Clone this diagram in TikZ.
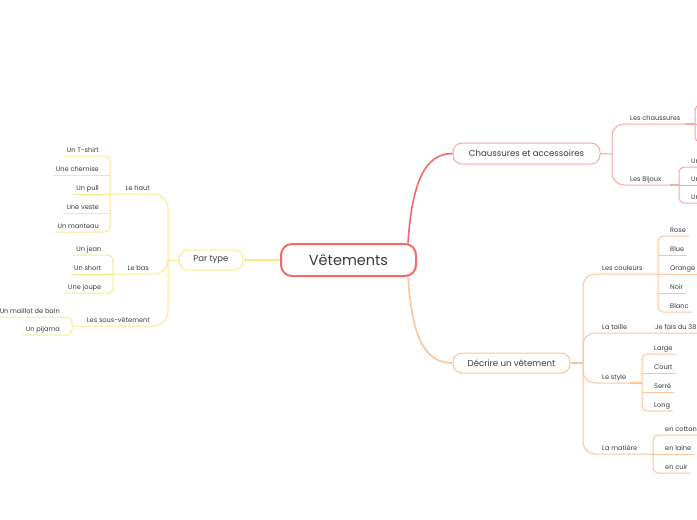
\documentclass[tikz,border=0pt]{standalone}
\usepackage{fontspec}
\setmainfont{Poppins}
\definecolor{redc}{HTML}{F26B6B}
\definecolor{pinkc}{HTML}{F9A5A5}
\definecolor{peachc}{HTML}{FDC49A}
\definecolor{yelc}{HTML}{F8EA8C}
\definecolor{txt}{HTML}{3A3A3A}
\begin{document}
\begin{tikzpicture}[x=1pt,y=-1pt,
  leafL/.style={font=\fontsize{6.6}{8}\selectfont, text=txt, inner xsep=3pt, inner ysep=0pt, text height=5.5pt, text depth=3.5pt, anchor=south east},
  leafR/.style={font=\fontsize{6.6}{8}\selectfont, text=txt, inner xsep=3pt, inner ysep=0pt, text height=5.5pt, text depth=3.5pt, anchor=south west},
  mainbox/.style={draw, rounded corners=9pt, text=txt, inner sep=0pt, line width=1pt},
  yl/.style={yelc, line width=1pt},
  pk/.style={pinkc, line width=1pt},
  pc/.style={peachc, line width=1pt},
  thick2/.style={line width=2.2pt},
  brk/.style={rounded corners=5pt}
]
\clip (0,0) rectangle (697,520);
\fill[white] (0,0) rectangle (697,520);

% ---------- main nodes
\node[mainbox, draw=redc, line width=2pt, rounded corners=11pt, minimum width=135pt, minimum height=32pt, font=\fontsize{14.5}{16}\selectfont] (root) at (348.5,260) {Vêtements};
\node[mainbox, draw=yelc, minimum width=64pt, minimum height=20pt, font=\fontsize{8.5}{10}\selectfont] (par) at (211,260) {Par type};
\node[mainbox, draw=pinkc, minimum width=147pt, minimum height=21pt, font=\fontsize{8.6}{10}\selectfont] (chaus) at (526.5,153.5) {Chaussures et accessoires};
\node[mainbox, draw=peachc, minimum width=117pt, minimum height=20pt, font=\fontsize{8.6}{10}\selectfont] (decr) at (511.5,363) {Décrire un vêtement};

% ---------- root connectors
\draw[redc, line width=1.6pt] ([xshift=-9pt]root.north east) .. controls +(4,-60) and +(-28,0) .. (chaus.west);
\draw[peachc, line width=1.6pt] ([xshift=-9pt]root.south east) .. controls +(4,60) and +(-28,0) .. (decr.west);
\draw[yelc, line width=1.3pt] (par.east) -- (root.west);

% ================= Par type branch
\coordinate (pt) at (168,260);
\draw[yl] (par.west) -- (pt);
\coordinate (hautbr) at (110,194);
\coordinate (basbr) at (113,274);
\coordinate (sousbr) at (72,326);
\draw[yl, rounded corners=14pt] (pt) |- (hautbr);
\draw[yl, rounded corners=14pt] (pt) |- (basbr);
\draw[yl, rounded corners=14pt] (pt) |- (sousbr);
\node[leafL] (haut) at (153,194) {Le haut};
\node[leafL] (bas) at (152,274) {Le bas};
\node[leafL] (sous) at (153,326) {Les sous-vêtement};

\node[leafL] (tshirt) at (102,156) {Un T-shirt};
\node[leafL] (chemise) at (102,175) {Une chemise};
\node[leafL] (pull) at (102,194) {Un pull};
\node[leafL] (veste) at (102,213) {Une veste};
\node[leafL] (manteau) at (102,232) {Un manteau};
\draw[yl, brk] (tshirt.south west) -- (tshirt.south west -| hautbr) -- (manteau.south west -| hautbr) -- (manteau.south west);
\draw[yl] (chemise.south west) -- (chemise.south west -| hautbr);
\draw[yl] (pull.south west) -- (hautbr);
\draw[yl] (veste.south west) -- (veste.south west -| hautbr);

\node[leafL] (jean) at (104.5,255) {Un jean};
\node[leafL] (short) at (104.5,274) {Un short};
\node[leafL] (joupe) at (104.5,293) {Une joupe};
\draw[yl, brk] (jean.south west) -- (jean.south west -| basbr) -- (joupe.south west -| basbr) -- (joupe.south west);
\draw[yl] (short.south west) -- (basbr);

\node[leafL] (maillot) at (63,317) {Un maillot de bain};
\node[leafL] (pijama) at (63,335) {Un pijama};
\draw[yl, brk] (maillot.south west) -- (maillot.south west -| sousbr) -- (pijama.south west -| sousbr) -- (pijama.south west);

% ================= Chaussures branch
\coordinate (ct) at (612,154);
\draw[pk] (chaus.east) -- (ct);
\coordinate (chbr) at (695,124);
\coordinate (bjbr) at (679,185);
\draw[pk, rounded corners=12pt] (ct) |- (chbr);
\draw[pk, rounded corners=12pt] (ct) |- (bjbr);
\draw[pinkc, thick2] ([xshift=-10pt]chbr) -- (chbr);
\draw[pinkc, thick2] ([xshift=-9pt]bjbr) -- (bjbr);
\node[leafR] (lchaus) at (627,124) {Les chaussures};
\node[leafR] (bijoux) at (627,185) {Les Bijoux};
\coordinate (ch1) at (720,105);
\coordinate (ch2) at (720,124);
\coordinate (ch3) at (720,142);
\draw[pk, brk] (ch1) -- (ch1 -| chbr) -- (ch3 -| chbr) -- (ch3);
\draw[pk] (chbr) -- (ch2);
\node[leafR] (bj1) at (688,167) {Un};
\node[leafR] (bj2) at (688,185) {Un};
\node[leafR] (bj3) at (688,203) {Un};
\draw[pk, brk] (bj1.south east) -- (bj1.south east -| bjbr) -- (bj3.south east -| bjbr) -- (bj3.south east);
\draw[pk] (bjbr) -- (bj2.south east);

% ================= Décrire branch
\coordinate (dt) at (583,363);
\draw[peachc, thick2] (decr.east) -- (dt);
\coordinate (coulbr) at (658,274);
\coordinate (taillend) at (720,333);
\coordinate (stylbr) at (642,383);
\coordinate (matbr) at (653,454);
\draw[pc, rounded corners=12pt] (dt) |- (coulbr);
\draw[pc, rounded corners=12pt] (dt) |- (taillend);
\draw[pc, rounded corners=12pt] (dt) |- (stylbr);
\draw[pc, rounded corners=12pt] (dt) |- (matbr);
\draw[peachc, thick2] ([xshift=-12pt]stylbr) -- (stylbr);
\node[leafR] (coul) at (599,274) {Les couleurs};
\node[leafR] (taille) at (599,333) {La taille};
\node[leafR] (style) at (599,383) {Le style};
\node[leafR] (mat) at (599,454) {La matière};
\node[leafR] (trente) at (652,333) {Je fais du 38};

\node[leafR] (rose) at (667,236) {Rose};
\node[leafR] (blue) at (667,255) {Blue};
\node[leafR] (orange) at (667,274) {Orange};
\node[leafR] (noir) at (667,293) {Noir};
\node[leafR] (blanc) at (667,312) {Blanc};
\draw[pc, brk] (rose.south east) -- (rose.south east -| coulbr) -- (blanc.south east -| coulbr) -- (blanc.south east);
\draw[pc] (coulbr) -- (orange.south east);
\draw[pc] (blue.south east -| coulbr) -- (blue.south east);
\draw[pc] (noir.south east -| coulbr) -- (noir.south east);

\node[leafR] (large) at (651,354) {Large};
\node[leafR] (court) at (651,373) {Court};
\node[leafR] (serre) at (651,392) {Serré};
\node[leafR] (long) at (651,411) {Long};
\draw[pc, brk] (large.south east) -- (large.south east -| stylbr) -- (long.south east -| stylbr) -- (long.south east);
\draw[pc] (court.south east -| stylbr) -- (court.south east);
\draw[pc] (serre.south east -| stylbr) -- (serre.south east);

\node[leafR] (cotton) at (662,435) {en cotton};
\node[leafR] (laine) at (662,454) {en laine};
\node[leafR] (cuir) at (662,473) {en cuir};
\draw[pc, brk] (cotton.south east) -- (cotton.south east -| matbr) -- (cuir.south east -| matbr) -- (cuir.south east);
\draw[pc] (matbr) -- (laine.south east);
\end{tikzpicture}
\end{document}
